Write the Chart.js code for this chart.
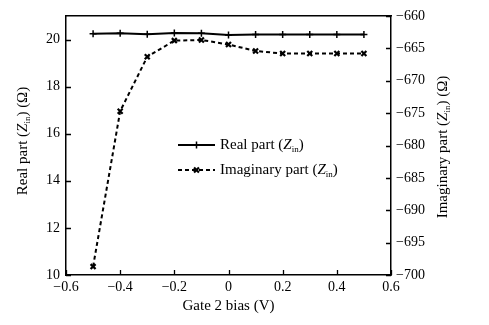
<!DOCTYPE html>
<html>
<head>
<meta charset="utf-8">
<script src="https://cdn.jsdelivr.net/npm/chart.js@4.4.1/dist/chart.umd.min.js"></script>
<style>
  html, body { margin: 0; padding: 0; background: #fff; }
  #wrap { width: 489px; height: 325px; }
</style>
</head>
<body>
<div id="wrap"><canvas id="myChart" width="489" height="325"></canvas></div>
<script>
// gate 2 bias (V)
const gateBias = [-0.5, -0.4, -0.3, -0.2, -0.1, 0, 0.1, 0.2, 0.3, 0.4, 0.5];
// real part of Zin (ohm), left axis
const realPart = [20.25, 20.27, 20.23, 20.28, 20.27, 20.19, 20.21, 20.21, 20.21, 20.21, 20.21];
// imaginary part of Zin (ohm), right axis
const imagPart = [-698.7, -674.7, -666.3, -663.8, -663.7, -664.4, -665.4, -665.8, -665.8, -665.8, -665.8];

const xTicks = [-0.6, -0.4, -0.2, 0, 0.2, 0.4, 0.6];
const yLeftTicks = [10, 12, 14, 16, 18, 20];
const yRightTicks = [-700, -695, -690, -685, -680, -675, -670, -665, -660];

const FONT = '"Liberation Serif", "Times New Roman", serif';
const minus = (v) => String(v).replace('-', '\u2212');

// draws a line of text with italic and subscript pieces, centred on (0,0)
function drawRich(ctx, parts, size) {
    const fontFor = (p) => (p.italic ? 'italic ' : '') + (p.sub ? Math.round(size * 0.62) : size) + 'px ' + FONT;
    let total = 0;
    parts.forEach(p => { ctx.font = fontFor(p); total += ctx.measureText(p.t).width; });
    let x = -total / 2;
    ctx.textBaseline = 'middle';
    ctx.textAlign = 'left';
    parts.forEach(p => {
        ctx.font = fontFor(p);
        ctx.fillText(p.t, x, p.sub ? size * 0.32 : 0);
        x += ctx.measureText(p.t).width;
    });
    return total;
}

function zin(prefix, suffix) {
    return [{ t: prefix + '(' }, { t: 'Z', italic: true }, { t: 'in', sub: true }, { t: ')' + (suffix || '') }];
}

// inward tick marks, axis titles and the legend
const decorations = {
    id: 'decorations',
    afterDraw(chart) {
        const ctx = chart.ctx;
        const a = chart.chartArea;
        const sx = chart.scales.x, yl = chart.scales.y, yr = chart.scales.y2;
        ctx.save();
        ctx.strokeStyle = '#000';
        ctx.lineWidth = 1.3;
        ctx.beginPath();
        sx.ticks.forEach(t => {
            const px = Math.round(sx.getPixelForValue(t.value)) + 0.5;
            ctx.moveTo(px, a.bottom); ctx.lineTo(px, a.bottom - 5);
        });
        yl.ticks.forEach(t => {
            const py = Math.round(yl.getPixelForValue(t.value)) + 0.5;
            ctx.moveTo(a.left, py); ctx.lineTo(a.left + 5, py);
        });
        yr.ticks.forEach(t => {
            const py = Math.round(yr.getPixelForValue(t.value)) + 0.5;
            ctx.moveTo(a.right, py); ctx.lineTo(a.right - 5, py);
        });
        ctx.stroke();

        ctx.fillStyle = '#000';
        // x title
        ctx.save();
        ctx.translate((a.left + a.right) / 2, 306);
        drawRich(ctx, [{ t: 'Gate 2 bias (V)' }], 15);
        ctx.restore();
        // left title
        ctx.save();
        ctx.translate(23, 141);
        ctx.rotate(-Math.PI / 2);
        drawRich(ctx, zin('Real part ', ' (\u03A9)'), 15);
        ctx.restore();
        // right title
        ctx.save();
        ctx.translate(443, 147);
        ctx.rotate(-Math.PI / 2);
        drawRich(ctx, zin('Imaginary part ', ' (\u03A9)'), 15);
        ctx.restore();

        // legend
        const rows = [
            { ds: chart.data.datasets[0], y: 145, label: zin('Real part ') },
            { ds: chart.data.datasets[1], y: 170, label: zin('Imaginary part ') }
        ];
        rows.forEach(r => {
            ctx.save();
            ctx.strokeStyle = '#000';
            ctx.lineWidth = r.ds.borderWidth;
            ctx.setLineDash(r.ds.borderDash || []);
            ctx.beginPath();
            ctx.moveTo(178, r.y); ctx.lineTo(215, r.y);
            ctx.stroke();
            ctx.setLineDash([]);
            ctx.lineWidth = r.ds.pointBorderWidth;
            Chart.helpers.drawPoint(ctx, { pointStyle: r.ds.pointStyle, radius: r.ds.pointRadius, borderWidth: r.ds.pointBorderWidth }, 196.5, r.y);
            ctx.restore();
            ctx.save();
            ctx.fillStyle = '#000';
            let w = 0;
            r.label.forEach(p => {
                ctx.font = (p.italic ? 'italic ' : '') + (p.sub ? 9 : 15) + 'px ' + FONT;
                w += ctx.measureText(p.t).width;
            });
            ctx.translate(220 + w / 2, r.y);
            drawRich(ctx, r.label, 15);
            ctx.restore();
        });
        ctx.restore();
    }
};

const ctx = document.getElementById('myChart').getContext('2d');
new Chart(ctx, {
    type: 'line',
    data: {
        datasets: [{
            label: 'Real part (Zin)',
            data: gateBias.map((x, i) => ({ x, y: realPart[i] })),
            yAxisID: 'y',
            borderColor: '#000',
            backgroundColor: '#000',
            borderWidth: 2,
            pointStyle: 'cross',
            pointRadius: 3.5,
            pointBorderWidth: 1.5,
            tension: 0
        }, {
            label: 'Imaginary part (Zin)',
            data: gateBias.map((x, i) => ({ x, y: imagPart[i] })),
            yAxisID: 'y2',
            borderColor: '#000',
            backgroundColor: '#000',
            borderWidth: 2,
            borderDash: [4, 3],
            pointStyle: 'crossRot',
            pointRadius: 3.5,
            pointBorderWidth: 2.2,
            tension: 0
        }]
    },
    options: {
        responsive: false,
        animation: false,
        layout: { padding: { top: 16, right: 0, bottom: 0, left: 0 } },
        plugins: { legend: { display: false }, tooltip: { enabled: false } },
        scales: {
            x: {
                type: 'linear',
                min: -0.6, max: 0.6,
                afterBuildTicks: (s) => { s.ticks = xTicks.map(v => ({ value: v })); },
                afterFit: (s) => { s.height = 50; },
                grid: { display: false, drawTicks: false },
                border: { display: true, color: '#000', width: 1.5 },
                ticks: {
                    color: '#000', font: { family: FONT, size: 14 }, padding: 4,
                    maxRotation: 0,
                    callback: (v) => minus(v)
                }
            },
            y: {
                position: 'left',
                min: 10, max: 21,
                afterBuildTicks: (s) => { s.ticks = yLeftTicks.map(v => ({ value: v })); },
                afterFit: (s) => { s.width = 66; },
                grid: { display: false, drawTicks: false },
                border: { display: true, color: '#000', width: 1.5 },
                ticks: { color: '#000', font: { family: FONT, size: 14 }, padding: 6 }
            },
            y2: {
                position: 'right',
                min: -700, max: -660,
                afterBuildTicks: (s) => { s.ticks = yRightTicks.map(v => ({ value: v })); },
                afterFit: (s) => { s.width = 98; },
                grid: { display: false, drawTicks: false },
                border: { display: true, color: '#000', width: 1.5 },
                ticks: { color: '#000', font: { family: FONT, size: 14 }, padding: 5, callback: (v) => minus(v) }
            },
            top: {
                position: 'top',
                type: 'linear',
                display: true,
                afterFit: (s) => { s.height = 0; },
                grid: { display: false, drawTicks: false },
                border: { display: true, color: '#000', width: 1.5 },
                ticks: { display: false }
            }
        }
    },
    plugins: [decorations]
});
</script>
</body>
</html>
